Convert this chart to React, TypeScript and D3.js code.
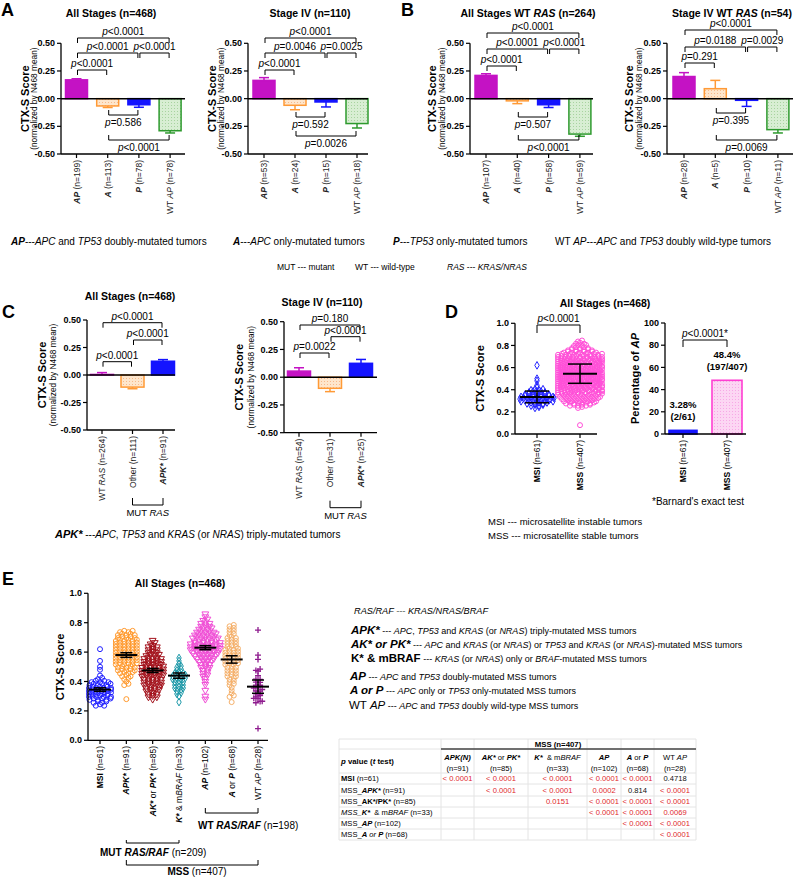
import React from "react";
import * as d3 from "d3";

const FONT = "'Liberation Sans', Arial, Helvetica, sans-serif";

// ================= DATA =================
// Panels A & B
const apPairs = [[0, 3], [0, 2], [2, 3], [0, 1], [1, 2], [1, 3]];
const a1N = [199, 113, 78, 78];
const a1Mean = [0.17, -0.066, -0.055, -0.29];
const a1Err = [0.18, -0.08, -0.078, -0.31];
const a1P = ["<0.0001", "<0.0001", "<0.0001", "<0.0001", "=0.586", "<0.0001"];

const a2N = [53, 24, 15, 18];
const a2Mean = [0.165, -0.06, -0.03, -0.225];
const a2Err = [0.19, -0.1, -0.075, -0.265];
const a2P = ["<0.0001", "=0.0046", "=0.0025", "<0.0001", "=0.592", "=0.0026"];

const b1N = [107, 40, 58, 59];
const b1Mean = [0.21, -0.02, -0.055, -0.32];
const b1Err = [0.225, -0.045, -0.08, -0.34];
const b1P = ["<0.0001", "<0.0001", "<0.0001", "<0.0001", "=0.507", "<0.0001"];

const b2N = [28, 5, 10, 11];
const b2Mean = [0.2, 0.09, -0.015, -0.28];
const b2Err = [0.235, 0.165, -0.07, -0.31];
const b2P = ["<0.0001", "=0.0188", "=0.0029", "=0.291", "=0.395", "=0.0069"];

// Panel C
const cPairs = [[0, 2], [1, 2], [0, 1]];
const c1N = [264, 111, 91];
const c1Mean = [0.005, -0.11, 0.125];
const c1Err = [0.022, -0.125, 0.14];
const c1P = ["<0.0001", "<0.0001", "<0.0001"];
const c2N = [54, 31, 25];
const c2Mean = [0.055, -0.1, 0.125];
const c2Err = [0.085, -0.13, 0.16];
const c2P = ["=0.180", "<0.0001", "=0.0022"];

// Panel D
const dN = [61, 407];
const dBinStep = 0.02;
const dMsiStart = 0.24;
const dMsiCounts = [2, 4, 6, 9, 10, 9, 7, 5, 4, 1, 1, 0, 1, 1, 0, 0, 0, 0, 0, 1];
const dMssStart = 0.08;
const dMssCounts = [1, 0, 0, 0, 0, 0, 0, 0, 2, 6, 8, 9, 10, 11, 12, 14, 15, 16, 17, 19, 20, 21, 21, 21, 21, 20, 20, 19, 18, 16, 15, 13, 12, 9, 7, 5, 4, 3, 2];
const dMean = [0.335, 0.545];
const dSd = [0.053, 0.087];
const dPct = [3.28, 48.4];
const dPctLabel = ["3.28%", "48.4%"];
const dFrac = ["(2/61)", "(197/407)"];

// Panel E
const eN = [61, 91, 85, 33, 102, 68, 28];
const eStart = [0.24, 0.28, 0.28, 0.26, 0.28, 0.26];
const eCounts = [
  [3, 4, 6, 7, 8, 8, 7, 6, 5, 2, 1, 0, 1, 1, 0, 1, 0, 0, 0, 1],
  [1, 0, 0, 0, 0, 2, 1, 2, 3, 4, 5, 5, 6, 6, 6, 6, 6, 6, 6, 6, 6, 5, 5, 4],
  [1, 3, 3, 4, 4, 5, 5, 5, 6, 6, 6, 6, 5, 5, 5, 4, 3, 3, 3, 2, 1],
  [1, 0, 1, 2, 2, 3, 3, 3, 4, 4, 3, 2, 2, 1, 1, 1],
  [1, 1, 0, 1, 0, 1, 1, 1, 2, 2, 2, 3, 3, 4, 5, 6, 7, 8, 8, 8, 6, 7, 6, 5, 4, 3, 3, 2, 1, 1],
  [1, 0, 2, 1, 1, 1, 2, 2, 2, 3, 3, 3, 3, 4, 4, 4, 4, 4, 4, 3, 3, 3, 3, 2, 2, 2, 2],
];
const eWtApValues = [0.75, 0.58, 0.55, 0.48, 0.48, 0.47, 0.44, 0.42, 0.41, 0.4, 0.39, 0.38, 0.37, 0.36, 0.36, 0.35, 0.34, 0.33, 0.32, 0.31, 0.3, 0.3, 0.29, 0.28, 0.27, 0.26, 0.26, 0.08];
const eMean = [0.345, 0.58, 0.475, 0.44, 0.63, 0.55, 0.365];
const eSem = [0.012, 0.016, 0.014, 0.018, 0.014, 0.025, 0.045];

// Table
const tblColN = ["(n=91)", "(n=85)", "(n=33)", "(n=102)", "(n=68)", "(n=28)"];
const tblVals = [
  ["< 0.0001", "< 0.0001", "< 0.0001", "< 0.0001", "< 0.0001", "0.4718"],
  ["", "< 0.0001", "< 0.0001", "0.0002", "0.814", "< 0.0001"],
  ["", "", "0.0151", "< 0.0001", "< 0.0001", "< 0.0001"],
  ["", "", "", "< 0.0001", "< 0.0001", "0.0069"],
  ["", "", "", "", "< 0.0001", "< 0.0001"],
  ["", "", "", "", "", "< 0.0001"],
];

// ================= STYLES =================
const MAG = "#c412c4";
const ORA = "#ff9a36";
const BLU = "#1414ff";
const GRN = "#2e9a2e";

// ================= HELPERS =================
function Rich({ x, y, segs, size = 10, anchor = "start", bold = false, fill = "#000", rot = 0, base }: any) {
  const tr = rot ? `translate(${x},${y}) rotate(${rot})` : undefined;
  return (
    <text x={rot ? 0 : x} y={rot ? 0 : y} transform={tr} fontSize={size} textAnchor={anchor}
      fontFamily={FONT} fontWeight={bold ? "bold" : "normal"} fill={fill}
      dominantBaseline={base} style={{ whiteSpace: "pre" }}>
      {segs.map((s: any, i: number) => {
        const f = s[1] || "";
        return (
          <tspan key={i}
            fontWeight={f.includes("b") ? "bold" : f.includes("n") ? "normal" : undefined}
            fontStyle={f.includes("i") ? "italic" : undefined}
            fontSize={s[2]} fill={s[3]}>{s[0]}</tspan>
        );
      })}
    </text>
  );
}

const pv = (s: string) => [["p", "i"], [s, ""]];

function Bracket({ x1, x2, y, below, label, tick = 5, size = 10 }: any) {
  const t = below ? -tick : tick;
  return (
    <g>
      <path d={`M${x1},${y + t}V${y}H${x2}V${y + t}`} fill="none" stroke="#000" strokeWidth={1} />
      <Rich x={(x1 + x2) / 2} y={below ? y + 11 : y - 3} segs={label} size={size} anchor="middle" />
    </g>
  );
}

function BarPanel({ L, title, labels, means, errs, pvals, pairs, fills, strokes }: any) {
  const y = d3.scaleLinear().domain([-0.5, 0.5]).range([L.yBot, L.yTop]);
  const idx = means.map((_: any, i: number) => i);
  const x = d3.scalePoint<number>().domain(idx).range([L.c0, L.c0 + L.step * (means.length - 1)]);
  const ticks = [-0.5, -0.25, 0, 0.25, 0.5];
  const y0 = y(0);
  const mid = (L.yTop + L.yBot) / 2;
  return (
    <g>
      <Rich x={L.tx} y={L.ty} segs={title} size={10.5} anchor="middle" bold />
      <Rich x={L.x0 - L.yl} y={mid} rot={-90} segs={[["CTX-S Score"]]} size={11} bold anchor="middle" base="central" />
      <Rich x={L.x0 - L.sl} y={mid} rot={-90} segs={[["(normalized by N468 mean)"]]} size={8.3} anchor="middle" base="central" />
      {means.map((m: number, i: number) => (
        <rect key={i} x={(x(i) as number) - L.bw / 2} y={Math.min(y(m), y0)} width={L.bw}
          height={Math.abs(y(m) - y0)} fill={fills[i]} stroke={strokes[i]} strokeWidth={1.5} />
      ))}
      {means.map((m: number, i: number) => {
        const xi = x(i) as number;
        return (
          <g key={i} stroke={strokes[i]} strokeWidth={1.5}>
            <line x1={xi} x2={xi} y1={y(m)} y2={y(errs[i])} />
            <line x1={xi - 5} x2={xi + 5} y1={y(errs[i])} y2={y(errs[i])} />
          </g>
        );
      })}
      <line x1={L.x0} x2={L.x1} y1={y0} y2={y0} stroke="#000" strokeWidth={1.5} />
      <line x1={L.x0} x2={L.x0} y1={L.yTop} y2={L.yBot} stroke="#000" strokeWidth={1.3} />
      <line x1={L.x0} x2={L.x1} y1={L.yBot} y2={L.yBot} stroke="#000" strokeWidth={1.3} />
      {ticks.map((t) => (
        <g key={t}>
          <line x1={L.x0 - 4} x2={L.x0} y1={y(t)} y2={y(t)} stroke="#000" strokeWidth={1.2} />
          <text x={L.x0 - 6} y={y(t)} dy="0.35em" fontSize={9} fontWeight="bold" textAnchor="end" fontFamily={FONT}>{t.toFixed(2)}</text>
        </g>
      ))}
      {idx.map((i: number) => (
        <line key={i} x1={x(i)} x2={x(i)} y1={L.yBot} y2={L.yBot + 4} stroke="#000" strokeWidth={1.2} />
      ))}
      {labels.map((lb: any, i: number) => (
        <Rich key={i} x={x(i)} y={L.yBot + 6} rot={-90} segs={lb} size={8.5} anchor="end" base="central" fill="#222" />
      ))}
      {pairs.map((p: number[], k: number) => {
        const yb = L.bys[k];
        const below = yb > y0;
        return <Bracket key={k} x1={(x(p[0]) as number) + 1} x2={(x(p[1]) as number) - 1} y={yb} below={below} label={pv(pvals[k])} />;
      })}
    </g>
  );
}

function spread(values: number[], step: number, maxHalf: number, gap: number) {
  const groups = d3.group(values, (v) => Math.round(v / step));
  const pts: { v: number; dx: number }[] = [];
  groups.forEach((vals) => {
    const c = vals.length;
    const sp = c > 1 ? Math.min(gap, (2 * maxHalf) / (c - 1)) : 0;
    vals.forEach((v, i) => {
      pts.push({ v: v + (c > 1 ? ((i % 2) - 0.5) * step * 0.45 : 0), dx: (i - (c - 1) / 2) * sp });
    });
  });
  return pts;
}
const expand = (start: number, step: number, counts: number[]) =>
  counts.flatMap((c, k) => Array.from({ length: c }, () => start + k * step));

const triPath = d3.symbol().type(d3.symbolTriangle).size(20)() as string;
const diaPath = d3.symbol().type(d3.symbolDiamond).size(17)() as string;

function Sym({ kind, x, y, color }: any) {
  if (kind === "circle") return <circle cx={x} cy={y} r={2.5} fill="none" stroke={color} strokeWidth={1} />;
  if (kind === "tri") return <path d={triPath} transform={`translate(${x},${y}) rotate(180)`} fill="none" stroke={color} strokeWidth={1} />;
  if (kind === "dia") return <path d={diaPath} transform={`translate(${x},${y})`} fill="none" stroke={color} strokeWidth={1} />;
  return <path d={`M${x - 3},${y}H${x + 3}M${x},${y - 3}V${y + 3}`} stroke={color} strokeWidth={1.3} />;
}

// ================= PANELS =================
const apLabels = (n: number[]) => [
  [["AP", "bi"], [` (n=${n[0]})`, ""]],
  [["A", "bi"], [` (n=${n[1]})`, ""]],
  [["P", "bi"], [` (n=${n[2]})`, ""]],
  [["WT ", ""], ["AP", "i"], [` (n=${n[3]})`, ""]],
];
const cLabels = (n: number[]) => [
  [["WT ", ""], ["RAS", "i"], [` (n=${n[0]})`, ""]],
  [[`Other (n=${n[1]})`, ""]],
  [["APK*", "bi"], [` (n=${n[2]})`, ""]],
];
const apFills = [MAG, "url(#dotO)", BLU, "url(#dotG)"];
const apStrokes = [MAG, ORA, BLU, GRN];

function PanelD() {
  const y = d3.scaleLinear().domain([0, 1]).range([434, 323.3]);
  const x = d3.scalePoint<number>().domain([0, 1]).range([537, 580]);
  const msi = spread(expand(dMsiStart, dBinStep, dMsiCounts), dBinStep, 17, 4);
  const mss = spread(expand(dMssStart, dBinStep, dMssCounts), dBinStep, 22, 4);
  const yb = d3.scaleLinear().domain([0, 100]).range([434, 323]);
  const xb = d3.scalePoint<number>().domain([0, 1]).range([683, 727]);
  const bw = [28, 30];
  const names = ["MSI", "MSS"];
  return (
    <g>
      <Rich x={605} y={307} segs={[["All Stages (n=468)"]]} size={10.5} bold anchor="middle" />
      <Rich x={480} y={378.5} rot={-90} segs={[["CTX-S Score"]]} size={11} bold anchor="middle" base="central" />
      {msi.map((p, i) => <Sym key={"a" + i} kind="dia" x={(x(0) as number) + p.dx} y={y(p.v)} color="#2424ff" />)}
      {mss.map((p, i) => <Sym key={"b" + i} kind="circle" x={(x(1) as number) + p.dx} y={y(p.v)} color="#ff4fd8" />)}
      {[0, 1].map((i) => {
        const xi = x(i) as number;
        return (
          <g key={i} stroke="#000" strokeWidth={1.5}>
            <line x1={xi - 17} x2={xi + 17} y1={y(dMean[i])} y2={y(dMean[i])} strokeWidth={2} />
            <line x1={xi} x2={xi} y1={y(dMean[i] - dSd[i])} y2={y(dMean[i] + dSd[i])} />
            <line x1={xi - 12} x2={xi + 12} y1={y(dMean[i] - dSd[i])} y2={y(dMean[i] - dSd[i])} />
            <line x1={xi - 12} x2={xi + 12} y1={y(dMean[i] + dSd[i])} y2={y(dMean[i] + dSd[i])} />
          </g>
        );
      })}
      <line x1={515} x2={515} y1={323.3} y2={434} stroke="#000" strokeWidth={1.3} />
      <line x1={515} x2={597} y1={434} y2={434} stroke="#000" strokeWidth={1.3} />
      {[0, 0.2, 0.4, 0.6, 0.8, 1].map((t) => (
        <g key={t}>
          <line x1={511} x2={515} y1={y(t)} y2={y(t)} stroke="#000" strokeWidth={1.2} />
          <text x={509} y={y(t)} dy="0.35em" fontSize={9} fontWeight="bold" textAnchor="end" fontFamily={FONT}>{t.toFixed(1)}</text>
        </g>
      ))}
      {[0, 1].map((i) => (
        <g key={i}>
          <line x1={x(i)} x2={x(i)} y1={434} y2={438} stroke="#000" strokeWidth={1.2} />
          <Rich x={x(i)} y={440} rot={-90} segs={[[names[i], "b"], [` (n=${dN[i]})`, ""]]} size={8.5} anchor="end" base="central" />
        </g>
      ))}
      <Bracket x1={x(0)} x2={x(1)} y={325} label={pv("<0.0001")} tick={8} />
      <Rich x={635} y={378.5} rot={-90} segs={[["Percentage of "], ["AP", "i"]]} size={11} bold anchor="middle" base="central" />
      {[0, 1].map((i) => {
        const xi = xb(i) as number;
        return (
          <g key={i}>
            <rect x={xi - bw[i] / 2} y={yb(dPct[i])} width={bw[i]} height={434 - yb(dPct[i])}
              fill={i === 0 ? BLU : "url(#dotP)"} stroke={i === 0 ? BLU : "#ff3fd2"} strokeWidth={1.6} />
            <text x={xi} y={yb(dPct[i]) - 22} fontSize={9.5} textAnchor="middle" fontFamily={FONT} fontWeight="bold">{dPctLabel[i]}</text>
            <text x={xi} y={yb(dPct[i]) - 10} fontSize={9.5} textAnchor="middle" fontFamily={FONT} fontWeight="bold">{dFrac[i]}</text>
            <line x1={xi} x2={xi} y1={434} y2={438} stroke="#000" strokeWidth={1.2} />
            <Rich x={xi} y={440} rot={-90} segs={[[names[i], "b"], [` (n=${dN[i]})`, ""]]} size={8.5} anchor="end" base="central" />
          </g>
        );
      })}
      <line x1={665} x2={665} y1={323} y2={434} stroke="#000" strokeWidth={1.3} />
      <line x1={665} x2={746} y1={434} y2={434} stroke="#000" strokeWidth={1.3} />
      {[0, 20, 40, 60, 80, 100].map((t) => (
        <g key={t}>
          <line x1={661} x2={665} y1={yb(t)} y2={yb(t)} stroke="#000" strokeWidth={1.2} />
          <text x={659} y={yb(t)} dy="0.35em" fontSize={9} fontWeight="bold" textAnchor="end" fontFamily={FONT}>{t}</text>
        </g>
      ))}
      <Bracket x1={xb(0)} x2={xb(1)} y={340} label={[["p", "i"], ["<0.0001*", ""]]} tick={7} />
      <Rich x={652} y={505} segs={[["*Barnard's exact test"]]} size={10} />
      <Rich x={488} y={525} segs={[["MSI --- microsatellite instable tumors"]]} size={9.5} />
      <Rich x={488} y={539} segs={[["MSS --- microsatellite stable tumors"]]} size={9.5} />
    </g>
  );
}

function PanelE() {
  const y = d3.scaleLinear().domain([0, 1]).range([740.3, 593.3]);
  const idx = d3.range(7);
  const x = d3.scalePoint<number>().domain(idx).range([100, 258]);
  const kinds = ["circle", "circle", "tri", "dia", "tri", "circle", "plus"];
  const colors = ["#2020ff", "#ff9a2e", "#a3121c", "#1b98a8", "#f04fd6", "#f5b06a", "#8e1b8e"];
  const halfs = [11, 14, 14, 11, 16, 14, 10];
  const groups = idx.map((g) => (g < 6 ? expand(eStart[g], 0.02, eCounts[g]) : eWtApValues));
  const labels = [
    [["MSI", "b"], [` (n=${eN[0]})`, ""]],
    [["APK*", "bi"], [` (n=${eN[1]})`, ""]],
    [["AK*", "bi"], [" or ", ""], ["PK*", "bi"], [` (n=${eN[2]})`, ""]],
    [["K*", "bi"], [" & m", ""], ["BRAF", "i"], [` (n=${eN[3]})`, ""]],
    [["AP", "bi"], [` (n=${eN[4]})`, ""]],
    [["A", "bi"], [" or ", ""], ["P", "bi"], [` (n=${eN[5]})`, ""]],
    [["WT ", ""], ["AP", "i"], [` (n=${eN[6]})`, ""]],
  ];
  return (
    <g>
      <Rich x={180} y={587} segs={[["All Stages (n=468)"]]} size={10.5} bold anchor="middle" />
      <Rich x={60} y={667} rot={-90} segs={[["CTX-S Score"]]} size={11} bold anchor="middle" base="central" />
      {groups.map((vals, g) =>
        spread(vals, 0.02, halfs[g], 4.2).map((p, i) => (
          <Sym key={g + "-" + i} kind={kinds[g]} x={(x(g) as number) + p.dx} y={y(p.v)} color={colors[g]} />
        ))
      )}
      {idx.map((g) => {
        const xi = x(g) as number;
        return (
          <g key={g} stroke="#000" strokeWidth={1.5}>
            <line x1={xi - 11} x2={xi + 11} y1={y(eMean[g])} y2={y(eMean[g])} strokeWidth={2} />
            <line x1={xi} x2={xi} y1={y(eMean[g] - eSem[g])} y2={y(eMean[g] + eSem[g])} />
            <line x1={xi - 6} x2={xi + 6} y1={y(eMean[g] - eSem[g])} y2={y(eMean[g] - eSem[g])} />
            <line x1={xi - 6} x2={xi + 6} y1={y(eMean[g] + eSem[g])} y2={y(eMean[g] + eSem[g])} />
          </g>
        );
      })}
      <line x1={88} x2={88} y1={593.3} y2={740.3} stroke="#000" strokeWidth={1.3} />
      <line x1={88} x2={268} y1={740.3} y2={740.3} stroke="#000" strokeWidth={1.3} />
      {[0, 0.2, 0.4, 0.6, 0.8, 1].map((t) => (
        <g key={t}>
          <line x1={84} x2={88} y1={y(t)} y2={y(t)} stroke="#000" strokeWidth={1.2} />
          <text x={82} y={y(t)} dy="0.35em" fontSize={9} fontWeight="bold" textAnchor="end" fontFamily={FONT}>{t.toFixed(1)}</text>
        </g>
      ))}
      {idx.map((g) => (
        <g key={g}>
          <line x1={x(g)} x2={x(g)} y1={740.3} y2={744} stroke="#000" strokeWidth={1.2} />
          <Rich x={x(g)} y={746} rot={-90} segs={labels[g]} size={8.5} anchor="end" base="central" />
        </g>
      ))}
      <path d={`M${x(4)},808V813H${x(6)}V808`} fill="none" stroke="#000" />
      <Rich x={198} y={829} segs={[["WT ", "b"], ["RAS/RAF", "bi"], [" (n=198)", ""]]} size={10} />
      <path d={`M${x(1)},840V843H${x(3)}V840`} fill="none" stroke="#000" />
      <Rich x={100} y={856} segs={[["MUT ", "b"], ["RAS/RAF", "bi"], [" (n=209)", ""]]} size={10} />
      <path d={`M${x(1)},860V865H${x(6)}V860`} fill="none" stroke="#000" />
      <Rich x={197} y={875} segs={[["MSS", "b"], [" (n=407)", ""]]} size={10} anchor="middle" />
    </g>
  );
}

function Table() {
  const cols = [339, 441, 474, 528, 587, 621, 654, 696];
  const rows = [739, 749, 773, 784, 796, 807, 818, 829, 840];
  const head = [
    [["APK(N)", "bi"]],
    [["AK*", "bi"], [" or ", ""], ["PK*", "bi"]],
    [["K*", "bi"], ["  & m", ""], ["BRAF", "i"]],
    [["AP", "bi"]],
    [["A", "bi"], [" or ", ""], ["P", "bi"]],
    [["WT ", ""], ["AP", "i"]],
  ];
  const rowLab = [
    [["MSI", "b"], [" (n=61)", ""]],
    [["MSS_", ""], ["APK*", "bi"], [" (n=91)", ""]],
    [["MSS_", ""], ["AK*/PK*", "b"], [" (n=85)", ""]],
    [["MSS_", "i"], ["K*", "bi"], ["  & m", ""], ["BRAF", "i"], [" (n=33)", ""]],
    [["MSS_", ""], ["AP", "bi"], [" (n=102)", ""]],
    [["MSS_", ""], ["A", "bi"], [" or ", "i"], ["P", "bi"], [" (n=68)", ""]],
  ];
  const isRed = (s: string) => s.startsWith("<") || (s !== "" && parseFloat(s) < 0.05);
  return (
    <g fontFamily={FONT}>
      {rows.map((r, i) => (
        <line key={"r" + i} x1={339} x2={696} y1={r} y2={r} stroke="#e4e4e4" strokeWidth={1} />
      ))}
      {cols.map((c, i) => (
        <line key={"c" + i} x1={c} x2={c} y1={739} y2={840} stroke="#e4e4e4" strokeWidth={1} />
      ))}
      <line x1={441} x2={696} y1={749} y2={749} stroke="#444" strokeWidth={1.4} />
      <Rich x={558} y={747} segs={[["MSS (n=407)"]]} size={7.8} bold anchor="middle" />
      <Rich x={341} y={764} segs={[["p", "bi"], [" value (", "b"], ["t", "bi"], [" test)", "b"]]} size={7.8} />
      {head.map((h, j) => {
        const cx = (cols[j + 1] + cols[j + 2]) / 2;
        return (
          <g key={j}>
            <Rich x={cx} y={760} segs={h} size={7.6} anchor="middle" />
            <Rich x={cx} y={771} segs={[[tblColN[j]]]} size={7.6} anchor="middle" />
          </g>
        );
      })}
      {tblVals.map((row, i) => {
        const cy = (rows[i + 2] + rows[i + 3]) / 2 + 2.7;
        return (
          <g key={i}>
            <Rich x={341} y={cy} segs={rowLab[i]} size={7.6} />
            {row.map((v, j) => (
              <text key={j} x={(cols[j + 1] + cols[j + 2]) / 2} y={cy} fontSize={7.6} textAnchor="middle"
                fill={isRed(v) ? "#e0262b" : "#111"}>{v}</text>
            ))}
          </g>
        );
      })}
    </g>
  );
}

export default function App() {
  const L_A1 = { x0: 61, x1: 185, c0: 76.5, step: 31.2, yTop: 43.3, yBot: 154, bw: 22, bys: [38, 53, 53, 70, 115, 140], tx: 111, ty: 17, yl: 36, sl: 27 };
  const L_A2 = { x0: 248, x1: 368, c0: 264, step: 31, yTop: 43.3, yBot: 154, bw: 22, bys: [38, 53, 53, 70, 117, 136], tx: 310, ty: 17, yl: 36, sl: 27 };
  const L_B1 = { x0: 470, x1: 593, c0: 486, step: 31.3, yTop: 43.3, yBot: 154, bw: 22, bys: [33, 49, 49, 66, 117, 140], tx: 528, ty: 17, yl: 38, sl: 28 };
  const L_B2 = { x0: 667, x1: 793, c0: 684, step: 31.3, yTop: 43.3, yBot: 154, bw: 22, bys: [30, 47, 47, 63, 113, 140], tx: 732, ty: 17, yl: 38, sl: 28 };
  const L_C1 = { x0: 87, x1: 175, c0: 102, step: 30.5, yTop: 320, yBot: 430, bw: 23, bys: [322.7, 340, 361.7], tx: 130, ty: 300, yl: 45, sl: 34 };
  const L_C2 = { x0: 284, x1: 377, c0: 299, step: 31, yTop: 321.7, yBot: 432.7, bw: 23, bys: [325, 336.7, 353], tx: 322, ty: 306, yl: 45, sl: 33 };
  const cFills = [MAG, "url(#dotO)", BLU];
  const cStrokes = [MAG, ORA, BLU];
  const letter = (t: string, x: number, y: number) => (
    <text x={x} y={y} fontSize={18} fontWeight="bold" fontFamily={FONT}>{t}</text>
  );
  const cMut = (L: any) => {
    const xa = L.c0 + L.step, xb = L.c0 + 2 * L.step, yy = L.yBot + 75;
    return (
      <g>
        <path d={`M${xa},${yy - 7}V${yy}H${xb}V${yy - 7}`} fill="none" stroke="#000" />
        <Rich x={(xa + xb) / 2} y={yy + 11} segs={[["MUT "], ["RAS", "i"]]} size={9.5} anchor="middle" />
      </g>
    );
  };
  const pat = (id: string, bg: string, dot: string) => (
    <pattern id={id} width={3} height={3} patternUnits="userSpaceOnUse">
      <rect width={3} height={3} fill={bg} />
      <rect x={0} y={0} width={1} height={1} fill={dot} />
    </pattern>
  );
  return (
    <svg width={800} height={878} style={{ position: "absolute", left: 0, top: 0, background: "#fff" }} fontFamily={FONT}>
      <defs>
        {pat("dotO", "#fee6cc", "#f7b98a")}
        {pat("dotG", "#d8eed3", "#a8d3a0")}
        {pat("dotP", "#fcd6f3", "#f7a8e6")}
      </defs>
      <rect width={800} height={878} fill="#fff" />
      {letter("A", 1, 16)}
      {letter("B", 401, 16)}
      {letter("C", 2, 318)}
      {letter("D", 445, 318)}
      {letter("E", 2, 585)}
      <BarPanel L={L_A1} title={[["All Stages (n=468)"]]} labels={apLabels(a1N)} means={a1Mean} errs={a1Err} pvals={a1P} pairs={apPairs} fills={apFills} strokes={apStrokes} />
      <BarPanel L={L_A2} title={[["Stage IV (n=110)"]]} labels={apLabels(a2N)} means={a2Mean} errs={a2Err} pvals={a2P} pairs={apPairs} fills={apFills} strokes={apStrokes} />
      <BarPanel L={L_B1} title={[["All Stages WT "], ["RAS", "i"], [" (n=264)"]]} labels={apLabels(b1N)} means={b1Mean} errs={b1Err} pvals={b1P} pairs={apPairs} fills={apFills} strokes={apStrokes} />
      <BarPanel L={L_B2} title={[["Stage IV WT "], ["RAS", "i"], [" (n=54)"]]} labels={apLabels(b2N)} means={b2Mean} errs={b2Err} pvals={b2P} pairs={apPairs} fills={apFills} strokes={apStrokes} />

      <Rich x={11} y={245} size={10} segs={[["AP", "bi"], ["---", ""], ["APC", "i"], [" and ", ""], ["TP53", "i"], [" doubly-mutated tumors", ""]]} />
      <Rich x={233} y={245} size={10} segs={[["A", "bi"], ["---", ""], ["APC", "i"], [" only-mutated tumors", ""]]} />
      <Rich x={393} y={245} size={10} segs={[["P", "bi"], ["---", ""], ["TP53", "i"], [" only-mutated tumors", ""]]} />
      <Rich x={555} y={245} size={10} segs={[["WT ", ""], ["AP", "i"], ["---", ""], ["APC", "i"], [" and ", ""], ["TP53", "i"], [" doubly wild-type tumors", ""]]} />
      <Rich x={277} y={270} size={8.5} segs={[["MUT --- mutant"]]} />
      <Rich x={355} y={270} size={8.5} segs={[["WT --- wild-type"]]} />
      <Rich x={447} y={270} size={8.5} segs={[["RAS", "i"], [" --- ", ""], ["KRAS/NRAS", "i"]]} />

      <BarPanel L={L_C1} title={[["All Stages (n=468)"]]} labels={cLabels(c1N)} means={c1Mean} errs={c1Err} pvals={c1P} pairs={cPairs} fills={cFills} strokes={cStrokes} />
      <BarPanel L={L_C2} title={[["Stage IV (n=110)"]]} labels={cLabels(c2N)} means={c2Mean} errs={c2Err} pvals={c2P} pairs={cPairs} fills={cFills} strokes={cStrokes} />
      {cMut(L_C1)}
      {cMut(L_C2)}
      <Rich x={55} y={538} size={10} segs={[["APK*", "bi", 11], [" ---", ""], ["APC", "i"], [", ", ""], ["TP53", "i"], [" and ", ""], ["KRAS", "i"], [" (or ", ""], ["NRAS", "i"], [") triply-mutated tumors", ""]]} />

      <PanelD />
      <PanelE />

      <Rich x={354} y={614} size={9.2} segs={[["RAS/RAF --- KRAS/NRAS/BRAF", "i"]]} />
      <Rich x={351} y={634} size={9} segs={[["APK*", "bi", 11.5], [" --- ", ""], ["APC", "i"], [", ", ""], ["TP53", "i"], [" and ", ""], ["KRAS", "i"], [" (or ", ""], ["NRAS", "i"], [") triply-mutated MSS tumors", ""]]} />
      <Rich x={351} y={648} size={9} segs={[["AK* or PK*", "bi", 11.5], [" --- ", ""], ["APC", "i"], [" and ", ""], ["KRAS", "i"], [" (or ", ""], ["NRAS", "i"], [") or ", ""], ["TP53", "i"], [" and ", ""], ["KRAS", "i"], [" (or ", ""], ["NRAS", "i"], [")-mutated MSS tumors", ""]]} />
      <Rich x={351} y={662} size={9} segs={[["K* & mBRAF", "b", 11.5], [" --- ", ""], ["KRAS", "i"], [" (or ", ""], ["NRAS", "i"], [") only or ", ""], ["BRAF", "i"], ["-mutated MSS tumors", ""]]} />
      <Rich x={350} y={680} size={9} segs={[["AP", "bi", 11.5], [" --- ", ""], ["APC", "i"], [" and ", ""], ["TP53", "i"], [" doubly-mutated MSS tumors", ""]]} />
      <Rich x={350} y={694} size={9} segs={[["A or P", "bi", 11.5], [" --- ", ""], ["APC", "i"], [" only or ", ""], ["TP53", "i"], [" only-mutated MSS tumors", ""]]} />
      <Rich x={349} y={708.5} size={9} segs={[["WT ", "", 11.5], ["AP", "i", 11.5], [" --- ", ""], ["APC", "i"], [" and ", ""], ["TP53", "i"], [" doubly wild-type MSS tumors", ""]]} />

      <Table />
    </svg>
  );
}
